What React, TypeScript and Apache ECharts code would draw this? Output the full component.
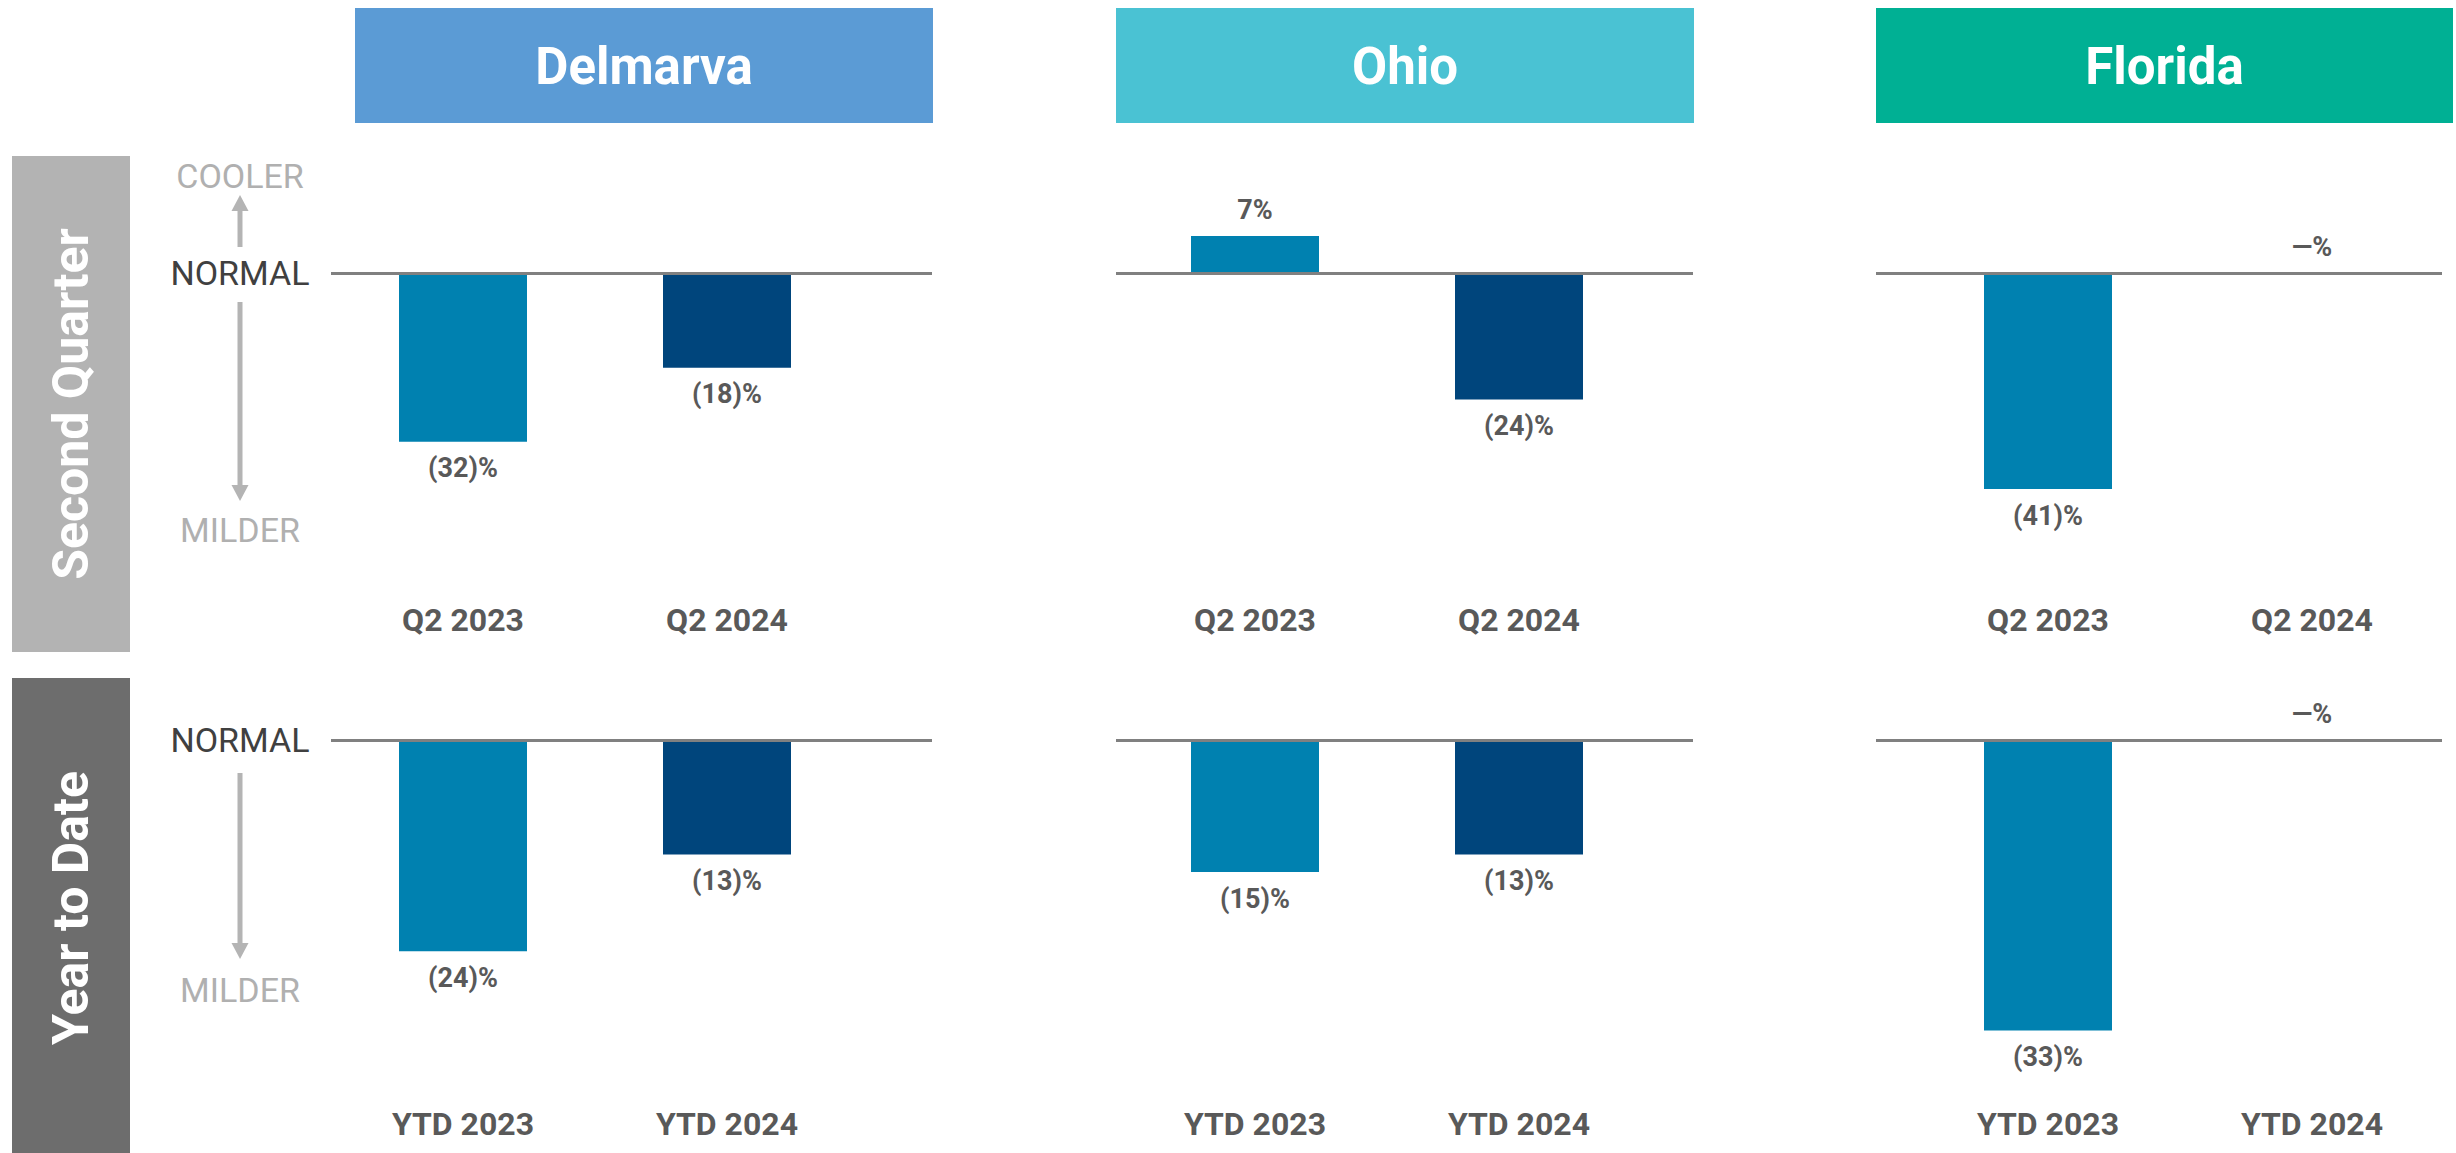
import React, { useEffect, useRef } from 'react';
import * as echarts from 'echarts';

// ---------- data ----------
const regions = ['Delmarva', 'Ohio', 'Florida'];
const rowTitles = ['Second Quarter', 'Year to Date'];
const q2Categories = ['Q2 2023', 'Q2 2024'];
const ytdCategories = ['YTD 2023', 'YTD 2024'];
const q2Delmarva = [-32, -18];
const q2Ohio = [7, -24];
const q2Florida = [-41, 0];
const ytdDelmarva = [-24, -13];
const ytdOhio = [-15, -13];
const ytdFlorida = [-33, 0];
const scaleLabels = { up: 'COOLER', zero: 'NORMAL', down: 'MILDER' };

// ---------- styles / layout ----------
const W = 2456;
const H = 1153;
const headerColors = ['#5B9BD5', '#4AC2D3', '#00B094'];
const barColors = ['#0081B0', '#00457C'];
const rowBoxColors = ['#B3B3B3', '#6D6D6D'];
const FONT = 'Roboto';
const SPACING = 264;
const panels = [
  { left: 331, right: 932, c1: 463, hl: 355, hr: 933 },
  { left: 1116, right: 1693, c1: 1255, hl: 1116, hr: 1694 },
  { left: 1876, right: 2442, c1: 2048, hl: 1876, hr: 2453 },
];
const rowsLayout = [
  { zero: 273, pxPer: 5.27, min: -60, max: 20, margin: 15, boxTop: 156, boxBottom: 652, textY: 404 },
  { zero: 740, pxPer: 8.8, min: -40, max: 5, margin: 16, boxTop: 678, boxBottom: 1153, textY: 908 },
];

const rowValues = [
  [q2Delmarva, q2Ohio, q2Florida],
  [ytdDelmarva, ytdOhio, ytdFlorida],
];
const rowCats = [q2Categories, ytdCategories];

function fmt(v: number): string {
  if (v < 0) return `(${-v})%`;
  if (v === 0) return '—%';
  return `${v}%`;
}

function buildOption() {
  const grid: any[] = [];
  const xAxis: any[] = [];
  const yAxis: any[] = [];
  const series: any[] = [];
  const graphic: any[] = [];

  rowsLayout.forEach((rl, r) => {
    panels.forEach((p, c) => {
      const i = r * 3 + c;
      const top = rl.zero - rl.max * rl.pxPer;
      const height = (rl.max - rl.min) * rl.pxPer;
      grid.push({ left: p.left, width: p.right - p.left, top, height, containLabel: false });
      const cats = rowCats[r];
      xAxis.push({
        gridIndex: i,
        type: 'value',
        min: -(p.c1 - p.left) / SPACING,
        max: 1 + (p.right - (p.c1 + SPACING)) / SPACING,
        axisLine: { show: false },
        axisTick: { show: false },
        splitLine: { show: false },
        axisLabel: {
          customValues: [0, 1],
          formatter: (v: number) => {
            const k = Math.round(v);
            if (Math.abs(v - k) > 1e-6) return '';
            return cats[k] ?? '';
          },
          margin: rl.margin,
          fontSize: 32,
          fontWeight: 'bold',
          fontFamily: FONT,
          color: '#595959',
        },
      });
      yAxis.push({ gridIndex: i, type: 'value', min: rl.min, max: rl.max, show: false });
      const vals = rowValues[r][c];
      series.push({
        type: 'bar',
        name: `${regions[c]} ${rowTitles[r]}`,
        xAxisIndex: i,
        yAxisIndex: i,
        barWidth: 128,
        data: vals.map((v, j) => ({
          value: [j, v],
          itemStyle: { color: barColors[j] },
          label: { position: v < 0 ? 'bottom' : 'top' },
        })),
        label: {
          show: true,
          distance: 13,
          formatter: (pp: any) => fmt(pp.value[1]),
          fontFamily: FONT,
          fontWeight: 'bold',
          fontSize: 27,
          color: '#595959',
        },
        markLine: {
          silent: true,
          symbol: ['none', 'none'],
          label: { show: false },
          lineStyle: { color: '#808080', width: 3, type: 'solid' },
          data: [{ yAxis: 0 }],
          animation: false,
        },
      });
    });

    // row box with rotated title
    graphic.push({
      type: 'rect',
      shape: { x: 12, y: rl.boxTop, width: 118, height: rl.boxBottom - rl.boxTop },
      style: { fill: rowBoxColors[r] },
      silent: true,
    });
    graphic.push({
      type: 'text',
      x: 71,
      y: rl.textY,
      rotation: Math.PI / 2,
      style: {
        text: rowTitles[r],
        fill: '#FFFFFF',
        fontSize: 50,
        fontWeight: 'bold',
        fontFamily: FONT,
        align: 'center',
        verticalAlign: 'middle',
      },
      silent: true,
    });
  });

  // headers
  panels.forEach((p, c) => {
    graphic.push({
      type: 'rect',
      shape: { x: p.hl, y: 8, width: p.hr - p.hl, height: 115 },
      style: { fill: headerColors[c] },
      silent: true,
    });
    graphic.push({
      type: 'text',
      x: (p.hl + p.hr) / 2,
      y: 66,
      style: {
        text: regions[c],
        fill: '#FFFFFF',
        fontSize: 51,
        fontWeight: 'bold',
        fontFamily: FONT,
        align: 'center',
        verticalAlign: 'middle',
      },
      silent: true,
    });
  });

  // scale annotations
  const ax = 240;
  const arrowColor = '#B4B4B4';
  const txt = (text: string, y: number, fill: string) => ({
    type: 'text',
    x: ax,
    y,
    style: { text, fill, fontSize: 34, fontFamily: FONT, align: 'center', verticalAlign: 'middle' },
    silent: true,
  });
  const arrow = (y1: number, tip: number) => {
    const dir = tip > y1 ? 1 : -1;
    const base = tip - dir * 16;
    return [
      {
        type: 'line',
        shape: { x1: ax, y1, x2: ax, y2: base + dir * 1 },
        style: { stroke: arrowColor, lineWidth: 5 },
        silent: true,
      },
      {
        type: 'polygon',
        shape: { points: [[ax - 8.5, base], [ax + 8.5, base], [ax, tip]] },
        style: { fill: arrowColor },
        silent: true,
      },
    ];
  };
  // row 1
  graphic.push(txt(scaleLabels.up, 176, '#B0B0B0'));
  graphic.push(txt(scaleLabels.zero, 273, '#404040'));
  graphic.push(txt(scaleLabels.down, 530, '#B0B0B0'));
  graphic.push(...arrow(247, 195));
  graphic.push(...arrow(302, 501));
  // row 2
  graphic.push(txt(scaleLabels.zero, 740, '#404040'));
  graphic.push(txt(scaleLabels.down, 990, '#B0B0B0'));
  graphic.push(...arrow(773, 959));

  return {
    animation: false,
    backgroundColor: '#FFFFFF',
    grid,
    xAxis,
    yAxis,
    series,
    graphic,
  };
}

export default function App() {
  const ref = useRef<HTMLDivElement>(null);
  useEffect(() => {
    if (!ref.current) return;
    const chart = echarts.init(ref.current, undefined, { renderer: 'svg', width: W, height: H });
    chart.setOption(buildOption() as any);
    return () => chart.dispose();
  }, []);
  return (
    <div
      ref={ref}
      style={{ position: 'absolute', left: 0, top: 0, width: W, height: H, background: '#FFFFFF' }}
    />
  );
}
